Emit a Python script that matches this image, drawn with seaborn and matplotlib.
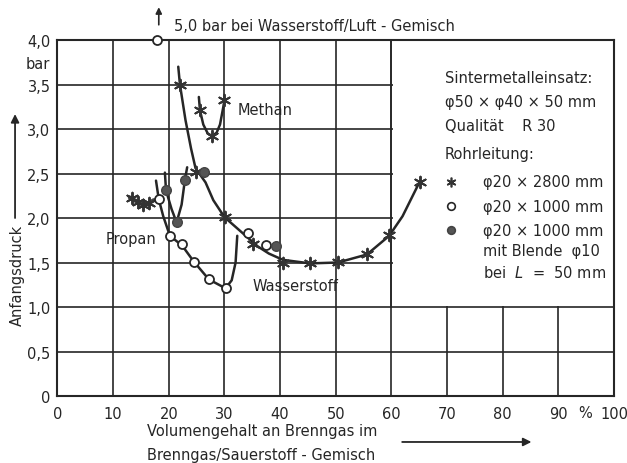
import numpy as np
import matplotlib
matplotlib.use('Agg')
import matplotlib.pyplot as plt
import pandas as pd
import seaborn as sns
from matplotlib.patches import Rectangle

# --- data ---
# curves (line shapes), volume % vs. pressure in bar
h2_curve_x = [21.7, 22.0, 23.0, 24.0, 24.8, 26.6, 28.0, 30.0, 32.0, 34.0, 36.0, 38.0, 40.5, 45.4, 50.4, 55.6, 59.6, 62.0, 65.1]
h2_curve_y = [3.70, 3.50, 3.10, 2.78, 2.56, 2.40, 2.20, 2.01, 1.90, 1.79, 1.68, 1.60, 1.53, 1.49, 1.50, 1.59, 1.80, 2.02, 2.41]
ch4_curve_x = [25.4, 25.6, 26.2, 27.0, 27.8, 28.6, 29.2, 29.8, 30.0]
ch4_curve_y = [3.36, 3.21, 3.05, 2.95, 2.92, 2.96, 3.05, 3.25, 3.33]
c3_curve_x = [17.7, 18.2, 19.0, 20.2, 22.4, 24.5, 27.2, 30.2, 31.3, 32.0, 32.3]
c3_curve_y = [2.42, 2.21, 2.02, 1.80, 1.69, 1.51, 1.31, 1.21, 1.30, 1.50, 1.80]
blende_curve_x = [19.3, 19.5, 20.5, 21.4, 22.3, 22.9, 23.3]
blende_curve_y = [2.51, 2.31, 2.10, 1.95, 2.15, 2.43, 2.57]
c3_star_curve_x = [13.0, 13.3, 14.4, 15.3, 16.5, 17.3]
c3_star_curve_y = [2.23, 2.22, 2.18, 2.15, 2.17, 2.20]

# measured points, by pipe
star_x = [13.3, 14.4, 15.3, 16.5, 25.6, 27.8, 30.0,
          22.0, 24.9, 30.1, 35.1, 40.5, 45.4, 50.4, 55.6, 59.6, 65.1]
star_y = [2.22, 2.18, 2.15, 2.17, 3.21, 2.92, 3.33,
          3.50, 2.52, 2.01, 1.71, 1.49, 1.49, 1.51, 1.60, 1.81, 2.41]
open_x = [17.8, 18.2, 20.2, 22.4, 24.5, 27.2, 30.2, 34.2, 37.4]
open_y = [4.00, 2.21, 1.80, 1.71, 1.51, 1.31, 1.21, 1.83, 1.70]
filled_x = [19.5, 21.4, 22.9, 26.3, 39.2]
filled_y = [2.31, 1.95, 2.43, 2.52, 1.69]

xticks = list(range(0, 101, 10))
xticklabels = ['0', '10', '20', '30', '40', '50', '60', '70', '80', '90', '100']
yticks = [0, 0.5, 1.0, 1.5, 2.0, 2.5, 3.0, 3.5, 4.0]
yticklabels = ['0', '0,5', '1,0', '1,5', '2,0', '2,5', '3,0', '3,5', '4,0']

sns.set_style('white')
plt.rcParams['font.family'] = ['DejaVu Sans']
plt.rcParams['font.size'] = 10

ink = '#262626'
fs = 10.5
fig = plt.figure(figsize=(6.27, 4.64), dpi=100)
ax = fig.add_axes([0.0917, 0.1444, 0.8876, 0.7672])
ax.set_xlim(0, 100)
ax.set_ylim(0, 4)
ax.set_xticks(xticks)
ax.set_xticklabels(xticklabels)
ax.set_yticks(yticks)
ax.set_yticklabels(yticklabels)
ax.tick_params(length=0, labelsize=fs, colors=ink)
ax.tick_params(axis='x', pad=7)
ax.tick_params(axis='y', pad=5)
for s in ax.spines.values():
    s.set_linewidth(1.5)
    s.set_color(ink)
ax.set_axisbelow(True)
ax.grid(True, color=ink, linewidth=1.2)
# legend area blanks out the grid in the upper right
ax.add_patch(Rectangle((60.2, 1.015), 39.7, 2.98, facecolor='white', edgecolor='none', zorder=0.8))
ax.axvline(60, ymin=0.25, ymax=1, color=ink, linewidth=1.2, zorder=0.9)

lw = 1.8
for cx, cy in [(h2_curve_x, h2_curve_y), (ch4_curve_x, ch4_curve_y), (c3_curve_x, c3_curve_y),
               (blende_curve_x, blende_curve_y)]:
    sns.lineplot(x=cx, y=cy, sort=False, estimator=None, color=ink, linewidth=lw, ax=ax, zorder=2)
sns.lineplot(x=c3_star_curve_x, y=c3_star_curve_y, sort=False, estimator=None, color='#444444',
             linewidth=3, ax=ax, zorder=2)

star_marker = (6, 2, 0)
sns.scatterplot(x=star_x, y=star_y, marker=star_marker, s=70, color='#333333', linewidth=1.4,
                edgecolor='#333333', ax=ax, zorder=3)
sns.scatterplot(x=open_x, y=open_y, marker='o', s=42, facecolor='white', edgecolor=ink,
                linewidth=1.3, ax=ax, zorder=4, clip_on=False)
sns.scatterplot(x=filled_x, y=filled_y, marker='o', s=48, color='#555555', edgecolor='#444444',
                linewidth=1.0, ax=ax, zorder=4)

# labels inside the plot
ax.text(32.3, 3.22, 'Methan', fontsize=fs, color=ink, va='center')
ax.text(8.7, 1.77, 'Propan', fontsize=fs, color=ink, va='center')
ax.text(35.1, 1.24, 'Wasserstoff', fontsize=fs, color=ink, va='center')
ax.text(-0.014, 3.74, 'bar', fontsize=fs, color=ink, va='center', ha='right',
        transform=ax.get_yaxis_transform())
ax.text(94.8, -0.1, '%', fontsize=fs, color=ink, ha='center', va='top')

# off-scale point note
ax.annotate('', xy=(18.2, 4.40), xytext=(18.2, 4.14),
            arrowprops=dict(arrowstyle='-|>', color=ink, lw=1.2, mutation_scale=9),
            annotation_clip=False)
ax.text(21.0, 4.16, '5,0 bar bei Wasserstoff/Luft - Gemisch', fontsize=fs, color=ink,
        va='center', clip_on=False)

# legend block
leg_lines = [(3.58, 'Sintermetalleinsatz:'),
             (3.31, 'φ50 × φ40 × 50 mm'),
             (3.04, 'Qualität    R 30'),
             (2.72, 'Rohrleitung:')]
for yy, tt in leg_lines:
    ax.text(69.6, yy, tt, fontsize=fs, color=ink, va='center')
sym = [(2.41, star_marker, '#333333', '#333333', 'φ20 × 2800 mm'),
       (2.13, 'o', 'white', ink, 'φ20 × 1000 mm'),
       (1.86, 'o', '#555555', '#444444', 'φ20 × 1000 mm')]
for yy, mk, fc, ec, tt in sym:
    ax.plot([70.7], [yy], marker=mk, markersize=7 if mk != 'o' else 5.5, markerfacecolor=fc,
            markeredgecolor=ec, linestyle='none', markeredgewidth=1.2)
    ax.text(76.4, yy, tt, fontsize=fs, color=ink, va='center')
ax.text(76.4, 1.63, 'mit Blende  φ10', fontsize=fs, color=ink, va='center')
ax.text(76.4, 1.39, 'bei  $L$  =  50 mm', fontsize=fs, color=ink, va='center')

# axis titles with arrows
fig.text(0.027, 0.407, 'Anfangsdruck', rotation=90, fontsize=fs, color=ink, ha='center', va='center')
ax.annotate('', xy=(0.024, 0.758), xytext=(0.024, 0.522), xycoords='figure fraction',
            textcoords='figure fraction',
            arrowprops=dict(arrowstyle='-|>', color=ink, lw=1.3, mutation_scale=12))
fig.text(0.2344, 0.069, 'Volumengehalt an Brenngas im', fontsize=fs, color=ink, va='center')
fig.text(0.2344, 0.019, 'Brenngas/Sauerstoff - Gemisch', fontsize=fs, color=ink, va='center')
ax.annotate('', xy=(0.852, 0.0453), xytext=(0.637, 0.0453), xycoords='figure fraction',
            textcoords='figure fraction',
            arrowprops=dict(arrowstyle='-|>', color=ink, lw=1.3, mutation_scale=12))

ax.set_xlabel('')
ax.set_ylabel('')
fig.savefig('out.png', dpi=100)
